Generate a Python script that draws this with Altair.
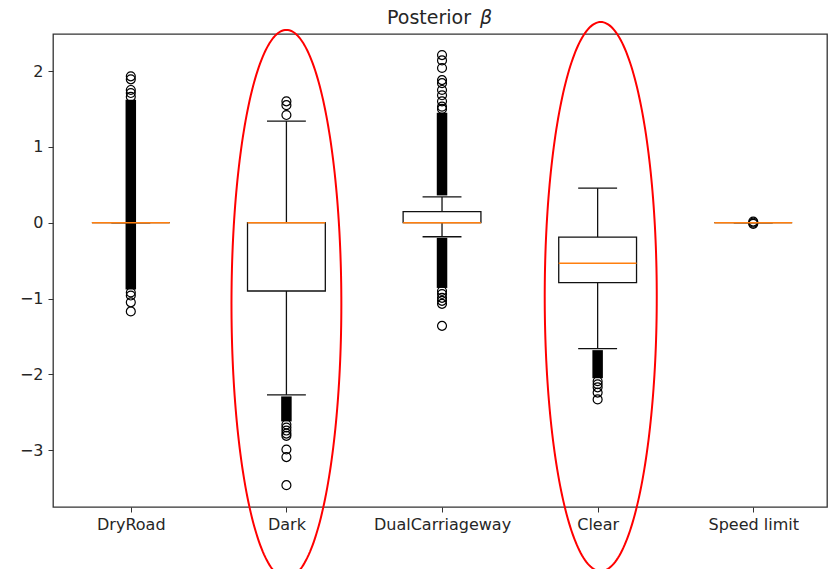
import json
import numpy as np
import pandas as pd
import altair as alt

# ---------------- data ----------------
categories = ["DryRoad", "Dark", "DualCarriageway", "Clear", "Speed limit"]
positions = [1, 2, 3, 4, 5]

q1 = [0.0, -0.90, 0.0, -0.79, 0.0]
median = [0.0, 0.0, 0.0, -0.535, 0.0]
q3 = [0.0, 0.0, 0.145, -0.19, 0.0]
whisk_lo = [0.0, -2.27, -0.185, -1.66, 0.0]
whisk_hi = [0.0, 1.34, 0.34, 0.455, 0.0]

# dense runs of outliers (thousands of overlapping circles) : position, low, high
dense_pos = [1, 2, 3, 3, 4]
dense_lo = [-0.88, -2.62, 0.36, -0.86, -2.05]
dense_hi = [1.62, -2.29, 1.45, -0.20, -1.68]

# individually visible outliers
flier_pos = ([1] * 9) + ([2] * 11) + ([3] * 16) + ([4] * 5) + ([5] * 3)
flier_val = (
    [1.66, 1.71, 1.75, 1.89, 1.93, -0.92, -0.96, -1.05, -1.17]
    + [1.42, 1.55, 1.60, -2.66, -2.70, -2.74, -2.78, -2.81, -2.99, -3.09, -3.46]
    + [1.50, 1.53, 1.60, 1.68, 1.75, 1.84, 1.88, 2.04, 2.14, 2.21,
       -0.90, -0.94, -0.99, -1.03, -1.07, -1.36]
    + [-2.09, -2.13, -2.17, -2.24, -2.33]
    + [0.015, 0.0, -0.015]
)

# red annotation ellipses: centre position, centre value, half-width, half-height
ell_pos = [2.0, 4.02]
ell_val = [-1.073, -0.974]
ell_rx = [0.353, 0.36]
ell_ry = [3.615, 3.62]

title_main = "Posterior"
title_symbol = "β"

# ---------------- tables ----------------
summary = pd.DataFrame(dict(pos=positions, cat=categories, q1=q1, med=median,
                            q3=q3, lo=whisk_lo, hi=whisk_hi))
whiskers = pd.concat([
    pd.DataFrame(dict(pos=positions, a=q3, b=whisk_hi)),
    pd.DataFrame(dict(pos=positions, a=q1, b=whisk_lo)),
])
caps = pd.concat([
    pd.DataFrame(dict(pos=positions, v=whisk_hi)),
    pd.DataFrame(dict(pos=positions, v=whisk_lo)),
])
dense = pd.DataFrame(dict(pos=dense_pos, lo=dense_lo, hi=dense_hi))
fliers = pd.DataFrame(dict(pos=flier_pos, v=flier_val))

t = np.linspace(0, 2 * np.pi, 241)
ell_rows = []
for k in range(len(ell_pos)):
    for i, tt in enumerate(t):
        ell_rows.append(dict(g=k, i=i,
                             ex=ell_pos[k] + ell_rx[k] * np.cos(tt),
                             ey=ell_val[k] + ell_ry[k] * np.sin(tt)))
ellipses = pd.DataFrame(ell_rows)

FONT = "DejaVu Sans"
TXT = "#262626"

xscale = alt.Scale(domain=[0.5, 5.474], nice=False, zero=False)
yscale = alt.Scale(domain=[-3.748, 2.488], nice=False, zero=False)

label_expr = json.dumps(categories) + "[datum.value - 1]"
xaxis = alt.Axis(values=positions, labelExpr=label_expr, title=None, grid=False,
                 domain=False, tickSize=5, tickColor="#333", labelPadding=4,
                 labelFontSize=16, labelColor=TXT, labelFont=FONT)
yaxis = alt.Axis(values=[-3, -2, -1, 0, 1, 2], format="d", title=None, grid=False,
                 domain=False, tickSize=5, tickColor="#333", labelPadding=5,
                 labelFontSize=16, labelColor=TXT, labelFont=FONT)


def X(field):
    return alt.X(field, type="quantitative", scale=xscale, axis=xaxis)


def Y(field):
    return alt.Y(field, type="quantitative", scale=yscale, axis=yaxis)


whisker_layer = alt.Chart(whiskers).mark_rule(color="#111", strokeWidth=1.3).encode(
    x=X("pos"), y=Y("a"), y2="b")

cap_layer = alt.Chart(caps).transform_calculate(
    xa="datum.pos - 0.125", xb="datum.pos + 0.125"
).mark_rule(color="#111", strokeWidth=1.3).encode(x=X("xa"), x2="xb", y=Y("v"))

box_layer = alt.Chart(summary).transform_calculate(
    xa="datum.pos - 0.25", xb="datum.pos + 0.25"
).mark_rect(fill="white", stroke="#111", strokeWidth=1.3).encode(
    x=X("xa"), x2="xb", y=Y("q1"), y2="q3")

dense_layer = alt.Chart(dense).mark_rule(color="black", strokeWidth=10.5).encode(
    x=X("pos"), y=Y("lo"), y2="hi")

flier_layer = alt.Chart(fliers).mark_point(
    shape="circle", filled=False, size=80, stroke="black", strokeWidth=1.2, opacity=1
).encode(x=X("pos"), y=Y("v"))

median_layer = alt.Chart(summary).transform_calculate(
    xa="datum.pos - 0.25", xb="datum.pos + 0.25"
).mark_rule(color="#ff7f0e", strokeWidth=1.6).encode(x=X("xa"), x2="xb", y=Y("med"))

ellipse_layer = alt.Chart(ellipses).mark_line(color="red", strokeWidth=2, clip=False).encode(
    x=X("ex"), y=Y("ey"), detail="g:N", order="i:Q")

title_a = alt.Chart(pd.DataFrame({"t": [title_main]})).mark_text(
    font=FONT, fontSize=19, color=TXT, align="left", baseline="alphabetic"
).encode(text="t:N", x=alt.value(334), y=alt.value(-10))

title_b = alt.Chart(pd.DataFrame({"t": [title_symbol]})).mark_text(
    font=FONT, fontSize=19, fontStyle="italic", color=TXT, align="left",
    baseline="alphabetic"
).encode(text="t:N", x=alt.value(427), y=alt.value(-10))

chart = alt.layer(
    whisker_layer, cap_layer, box_layer, dense_layer, flier_layer, median_layer,
    ellipse_layer, title_a, title_b
).properties(
    width=774, height=473,
    background="white",
    autosize=alt.AutoSizeParams(type="none"),
    padding={"left": 45, "top": 26, "right": 1, "bottom": 62},
).configure_view(stroke="#333", strokeWidth=1.3)

chart.save("out.html", embed_options={"renderer": "svg", "actions": False})
